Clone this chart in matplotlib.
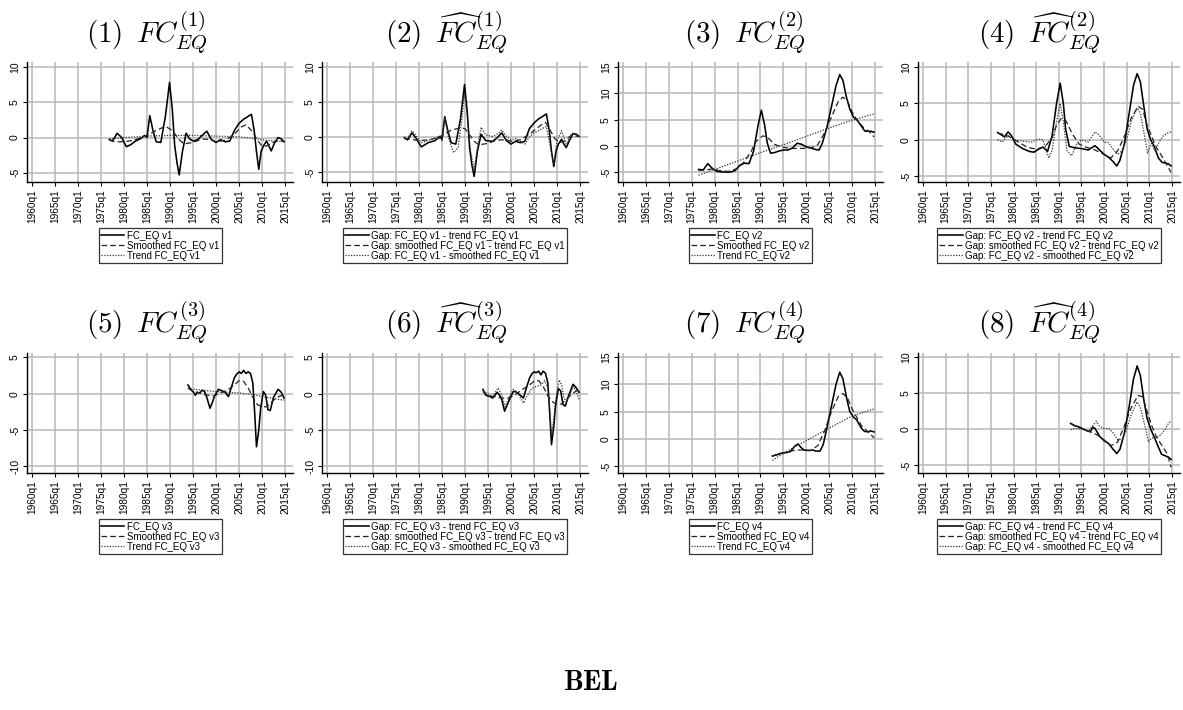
import matplotlib
matplotlib.use("Agg")
import matplotlib.pyplot as plt

plt.rcParams["font.family"] = ["Liberation Sans", "DejaVu Sans"]
plt.rcParams["mathtext.fontset"] = "cm"

# ---- series values (year, value) ----
# panel 1: FC_EQ v1
fc_v1 = [(1976.8, -0.3), (1977.5, -0.5), (1978.5, 0.6), (1979.5, 0.0), (1980.5, -1.3),
         (1981.5, -1.0), (1982.5, -0.5), (1983.5, -0.2), (1984.5, 0.3), (1985.0, 0.0),
         (1985.6, 3.1), (1986.3, 1.0), (1987.0, -0.6), (1988.0, -0.7), (1989.0, 3.0),
         (1989.9, 7.8), (1990.5, 4.0), (1991.0, -1.0), (1991.5, -3.5), (1992.0, -5.3),
         (1992.7, -2.0), (1993.5, 0.6), (1994.3, -0.2), (1995.0, -0.5), (1996.0, -0.3),
         (1997.0, 0.3), (1998.0, 0.9), (1999.0, -0.3), (2000.0, -0.7), (2001.0, -0.3),
         (2002.0, -0.6), (2003.0, -0.5), (2004.0, 1.0), (2005.0, 2.0), (2006.0, 2.6),
         (2007.0, 3.0), (2007.7, 3.3), (2008.3, 1.0), (2008.8, -2.0), (2009.3, -4.5),
         (2009.8, -2.0), (2010.3, -1.2), (2011.0, -0.5), (2011.5, -1.2), (2012.0, -1.9),
         (2012.7, -0.8), (2013.5, 0.0), (2014.2, -0.2), (2014.8, -0.6)]
smooth_v1 = [(1976.8, -0.3), (1978.0, -0.6), (1980.0, -0.6), (1982.0, -0.4), (1985.0, 0.3),
             (1987.0, 1.0), (1989.0, 1.6), (1990.5, 1.0), (1992.0, -0.3), (1993.0, -0.9),
             (1995.0, -0.7), (1997.0, -0.2), (1999.0, -0.3), (2000.0, -0.6), (2002.0, -0.4),
             (2004.0, 0.5), (2005.5, 1.5), (2006.5, 1.8), (2008.0, 0.8), (2009.0, -0.4),
             (2010.0, -1.2), (2011.0, -1.2), (2012.0, -0.8), (2013.0, -0.5), (2014.8, -0.5)]
trend_v1 = [(1976.8, -0.2), (1980.0, 0.0), (1985.0, 0.2), (1990.0, 0.3), (1995.0, 0.3),
            (2000.0, 0.2), (2005.0, 0.1), (2008.0, -0.1), (2011.0, -0.4), (2014.8, -0.6)]

# panel 2: gaps v1
gap_fc_trend_v1 = [(1976.8, -0.1), (1977.5, -0.4), (1978.5, 0.6), (1979.5, -0.3), (1980.5, -1.4),
                   (1982.0, -0.8), (1983.5, -0.5), (1984.5, 0.1), (1985.0, -0.3), (1985.6, 2.9),
                   (1986.3, 0.8), (1987.0, -0.8), (1988.0, -1.0), (1989.0, 2.5), (1989.9, 7.5),
                   (1990.5, 3.5), (1991.0, -1.5), (1991.5, -4.0), (1992.0, -5.6), (1992.7, -2.0),
                   (1993.5, 0.4), (1994.5, -0.5), (1996.0, -0.6), (1997.0, -0.1), (1998.0, 0.6),
                   (1999.0, -0.5), (2000.0, -1.0), (2001.0, -0.6), (2002.0, -0.8), (2003.0, -0.6),
                   (2004.0, 1.2), (2005.0, 2.0), (2006.0, 2.6), (2007.0, 3.0), (2007.7, 3.3),
                   (2008.3, 1.0), (2008.8, -2.0), (2009.3, -4.2), (2009.8, -2.0), (2010.3, -1.0),
                   (2011.0, -0.3), (2011.5, -1.0), (2012.0, -1.5), (2012.7, -0.5), (2013.5, 0.5),
                   (2014.2, 0.4), (2014.8, 0.1)]
gap_smooth_trend_v1 = [(1976.8, -0.2), (1978.0, -0.3), (1980.0, -0.5), (1982.0, -0.4), (1984.0, -0.1),
                       (1985.0, 0.2), (1987.0, 1.0), (1989.0, 1.3), (1990.0, 1.2), (1991.0, 0.3),
                       (1992.0, -0.6), (1993.0, -1.1), (1995.0, -0.9), (1997.0, -0.4), (1999.0, -0.4),
                       (2000.0, -0.6), (2002.0, -0.4), (2004.0, 0.4), (2005.5, 1.2), (2006.5, 1.7),
                       (2007.5, 2.1), (2008.5, 1.0), (2009.5, -0.2), (2010.5, -0.8), (2011.5, -0.6),
                       (2013.0, 0.2), (2014.8, 0.1)]
gap_fc_smooth_v1 = [(1976.8, 0.0), (1977.5, -0.2), (1978.5, 0.9), (1979.5, 0.1), (1980.5, -0.8),
                    (1982.0, -0.5), (1984.0, 0.0), (1985.0, -0.5), (1985.6, 2.7), (1986.5, -0.3),
                    (1987.5, -2.2), (1988.5, -1.5), (1989.3, 2.5), (1989.9, 6.3), (1990.5, 3.0),
                    (1991.2, -2.0), (1992.0, -4.6), (1992.7, -1.5), (1993.5, 1.4), (1994.5, 0.3),
                    (1996.0, 0.1), (1997.0, 0.4), (1998.0, 1.0), (1999.0, 0.1), (2000.0, -0.4),
                    (2001.0, -0.2), (2002.0, -0.6), (2003.0, -1.0), (2004.0, 0.0), (2005.0, 0.6),
                    (2006.0, 0.9), (2007.0, 1.3), (2007.7, 1.5), (2008.3, -0.5), (2009.3, -3.9),
                    (2010.0, -0.5), (2011.0, 0.9), (2012.0, -1.0), (2013.0, 0.3), (2014.0, 0.5),
                    (2014.8, -0.1)]

# panel 3: FC_EQ v2
fc_v2 = [(1976.5, -4.5), (1977.5, -4.6), (1978.5, -3.4), (1979.5, -4.3), (1980.5, -4.9),
         (1982.0, -5.0), (1983.5, -5.0), (1984.5, -4.7), (1985.5, -3.7), (1986.5, -3.3),
         (1987.5, -3.4), (1988.5, -1.0), (1989.5, 4.0), (1990.2, 6.8), (1990.9, 4.0),
         (1991.5, 0.5), (1992.2, -1.4), (1993.0, -1.3), (1994.0, -1.0), (1995.0, -0.8),
         (1996.0, -0.8), (1997.0, -0.4), (1998.0, 0.5), (1999.0, 0.3), (2000.0, -0.2),
         (2001.0, -0.4), (2002.0, -0.7), (2002.8, -0.8), (2003.5, 0.5), (2004.5, 3.5),
         (2005.5, 7.5), (2006.5, 11.5), (2007.3, 13.6), (2008.0, 12.5), (2008.7, 9.5),
         (2009.5, 7.0), (2010.3, 5.5), (2011.0, 5.0), (2012.0, 3.8), (2012.8, 2.8),
         (2013.5, 2.8), (2014.0, 2.8), (2014.8, 2.6)]
smooth_v2 = [(1976.5, -4.7), (1978.0, -4.6), (1979.5, -4.4), (1981.0, -4.7), (1983.0, -4.9),
             (1985.0, -4.3), (1986.5, -3.0), (1988.0, -1.0), (1989.0, 0.8), (1990.5, 1.9),
             (1991.5, 1.7), (1993.0, 0.3), (1995.0, -0.3), (1997.0, -0.5), (1999.0, -0.5),
             (2001.0, -0.4), (2002.5, 0.2), (2004.0, 2.5), (2005.5, 5.5), (2007.0, 8.5),
             (2008.0, 9.3), (2009.0, 8.5), (2010.0, 6.5), (2011.0, 5.0), (2012.5, 3.5),
             (2014.0, 2.5), (2014.8, 1.7)]
trend_v2 = [(1976.5, -5.6), (1980.0, -4.5), (1985.0, -2.9), (1990.0, -1.3), (1995.0, 0.2),
            (2000.0, 1.8), (2005.0, 3.4), (2010.0, 4.9), (2014.8, 6.1)]

# panel 4: gaps v2
gap_fc_trend_v2 = [(1976.5, 1.0), (1977.5, 0.6), (1978.0, 0.4), (1978.8, 1.1), (1979.5, 0.6),
                   (1980.5, -0.6), (1982.0, -1.2), (1983.5, -1.6), (1984.5, -1.7), (1985.5, -1.3),
                   (1986.5, -1.0), (1987.5, -1.6), (1988.5, 0.5), (1989.5, 5.0), (1990.3, 7.8),
                   (1991.0, 5.0), (1991.5, 1.5), (1992.3, -0.9), (1993.5, -1.1), (1995.0, -1.2),
                   (1996.5, -1.4), (1998.0, -0.8), (1999.0, -1.4), (2000.0, -2.0), (2001.0, -2.4),
                   (2002.0, -3.0), (2002.8, -3.6), (2003.5, -2.8), (2004.5, -0.5), (2005.5, 3.5),
                   (2006.5, 7.5), (2007.3, 9.1), (2008.0, 8.0), (2008.8, 4.5), (2009.5, 1.5),
                   (2010.3, 0.0), (2011.0, -0.8), (2012.0, -2.5), (2012.8, -3.1), (2013.5, -3.2),
                   (2014.2, -3.3), (2014.8, -3.6)]
gap_smooth_trend_v2 = [(1976.5, 0.9), (1978.0, 0.7), (1979.5, 0.3), (1981.0, -0.3), (1983.0, -1.0),
                       (1985.0, -1.3), (1987.0, -0.9), (1988.5, 0.3), (1989.5, 2.0), (1990.5, 2.9),
                       (1991.5, 2.7), (1993.0, 0.8), (1994.5, -0.6), (1996.0, -1.0), (1998.0, -1.4),
                       (2000.0, -2.0), (2001.5, -2.5), (2003.0, -1.5), (2004.5, 0.5), (2006.0, 3.0),
                       (2007.5, 4.6), (2008.5, 4.2), (2009.5, 2.0), (2010.5, 0.5), (2011.5, -1.0),
                       (2013.0, -2.5), (2014.8, -4.5)]
gap_fc_smooth_v2 = [(1976.5, 0.0), (1977.5, -0.3), (1978.8, 0.6), (1980.0, 0.0), (1982.0, -0.2),
                    (1984.0, -0.3), (1985.5, 0.1), (1986.5, 0.0), (1987.8, -2.5), (1988.5, -1.5),
                    (1989.5, 2.5), (1990.3, 5.0), (1991.0, 2.5), (1991.8, -1.5), (1992.8, -2.2),
                    (1994.0, -0.5), (1995.0, 0.0), (1996.5, -0.3), (1998.0, 1.1), (1999.0, 0.6),
                    (2000.0, -0.3), (2001.0, -0.4), (2002.0, -1.3), (2003.0, -2.0), (2004.0, -1.5),
                    (2005.0, 0.0), (2006.0, 2.5), (2007.3, 4.4), (2008.0, 3.7), (2008.8, 1.0),
                    (2009.6, -1.8), (2010.5, -0.5), (2011.2, -1.5), (2012.0, -0.5), (2013.0, 0.5),
                    (2014.2, 1.0), (2014.8, 1.1)]

# panel 5: FC_EQ v3
fc_v3 = [(1993.9, 1.2), (1994.5, 0.6), (1995.0, 0.3), (1995.5, -0.2), (1996.0, 0.2),
         (1996.5, 0.1), (1997.0, 0.5), (1997.5, 0.3), (1998.0, -0.5), (1998.7, -2.0),
         (1999.2, -1.2), (1999.7, -0.3), (2000.5, 0.6), (2001.0, 0.5), (2002.0, 0.2),
         (2002.7, -0.4), (2003.3, 0.8), (2004.0, 2.2), (2004.5, 2.7), (2005.0, 3.0),
         (2005.5, 2.8), (2006.0, 3.2), (2006.5, 2.8), (2007.0, 3.0), (2007.5, 2.8),
         (2008.0, 1.5), (2008.4, -2.5), (2008.8, -7.3), (2009.3, -5.0), (2009.7, -2.0),
         (2010.3, 0.3), (2010.8, -0.2), (2011.3, -2.2), (2011.8, -2.3), (2012.5, -0.5),
         (2013.5, 0.6), (2014.2, 0.2), (2014.8, -0.6)]
smooth_v3 = [(1993.9, 0.8), (1995.0, 0.3), (1996.5, 0.1), (1998.0, -0.2), (1999.5, -0.3),
             (2001.0, 0.1), (2002.5, 0.5), (2004.0, 1.2), (2005.0, 1.8), (2006.0, 1.7),
             (2007.0, 0.8), (2008.0, -0.5), (2009.0, -1.5), (2010.0, -1.8), (2011.0, -1.8),
             (2012.0, -1.2), (2013.0, -0.6), (2014.0, -0.3), (2014.8, -0.2)]
trend_v3 = [(1993.9, 0.7), (2000.0, 0.3), (2005.0, 0.1), (2008.0, -0.1), (2010.0, -0.4),
            (2012.0, -0.6), (2014.8, -0.9)]

# panel 6: gaps v3
gap_fc_trend_v3 = [(1993.9, 0.6), (1994.5, -0.2), (1995.5, -0.4), (1996.0, -0.6), (1996.5, -0.2),
                   (1997.0, 0.2), (1997.5, -0.2), (1998.0, -0.8), (1998.6, -2.4), (1999.2, -1.5),
                   (1999.8, -0.6), (2000.5, 0.3), (2001.0, 0.3), (2002.0, -0.2), (2002.7, -0.6),
                   (2003.3, 0.7), (2004.0, 2.1), (2004.5, 2.7), (2005.0, 3.0), (2005.5, 2.9),
                   (2006.0, 3.1), (2006.5, 2.6), (2007.0, 3.1), (2007.5, 2.8), (2008.0, 1.5),
                   (2008.4, -2.5), (2008.8, -7.0), (2009.3, -4.5), (2009.7, -1.5), (2010.3, 0.7),
                   (2010.8, 0.4), (2011.3, -1.5), (2011.8, -1.7), (2012.5, -0.3), (2013.5, 1.3),
                   (2014.2, 0.8), (2014.8, 0.2)]
gap_smooth_trend_v3 = [(1993.9, 0.3), (1995.0, -0.3), (1996.5, -0.4), (1998.0, -0.6), (1999.5, -0.6),
                       (2001.0, -0.1), (2002.5, 0.6), (2004.0, 1.2), (2005.0, 1.7), (2006.0, 1.8),
                       (2007.0, 1.0), (2008.0, -0.3), (2009.0, -1.1), (2010.0, -1.5), (2011.0, -1.4),
                       (2012.0, -0.8), (2013.0, -0.2), (2014.0, 0.3), (2014.8, 0.6)]
gap_fc_smooth_v3 = [(1993.9, 0.4), (1995.0, 0.0), (1996.0, -0.4), (1997.2, 0.8), (1998.0, -0.2),
                    (1998.7, -1.8), (1999.5, -0.6), (2000.5, 0.6), (2001.5, 0.1), (2002.7, -1.3),
                    (2003.5, -0.3), (2004.5, 0.7), (2005.5, 1.0), (2006.5, 1.2), (2007.3, 1.8),
                    (2008.0, 0.8), (2008.4, -2.0), (2008.8, -5.7), (2009.3, -3.5), (2009.8, -0.5),
                    (2010.5, 1.9), (2011.0, 1.2), (2011.5, -0.5), (2012.0, -1.1), (2012.7, -0.3),
                    (2013.5, 1.0), (2014.2, 0.3), (2014.8, -0.8)]

# panel 7: FC_EQ v4
fc_v4 = [(1992.6, -3.1), (1993.5, -2.9), (1994.5, -2.6), (1995.5, -2.5), (1996.5, -2.3),
         (1997.5, -1.3), (1998.2, -0.9), (1998.8, -1.5), (1999.5, -2.0), (2000.5, -2.1),
         (2001.5, -2.0), (2002.0, -2.2), (2003.0, -2.2), (2003.7, -1.0), (2004.5, 2.0),
         (2005.5, 6.0), (2006.5, 10.0), (2007.3, 12.2), (2008.0, 11.0), (2008.8, 7.5),
         (2009.5, 5.0), (2010.3, 4.0), (2011.0, 3.5), (2012.0, 2.0), (2012.7, 1.4),
         (2013.5, 1.3), (2014.0, 1.5), (2014.8, 1.3)]
smooth_v4 = [(1992.6, -3.1), (1994.0, -2.7), (1996.0, -2.3), (1998.0, -2.0), (1999.5, -2.0),
             (2001.0, -2.1), (2002.5, -1.2), (2004.0, 1.5), (2005.5, 5.0), (2007.0, 7.8),
             (2008.0, 8.3), (2009.0, 7.5), (2010.0, 5.5), (2011.0, 4.0), (2012.0, 2.5),
             (2013.5, 1.3), (2014.8, 0.2)]
trend_v4 = [(1992.6, -3.9), (1995.0, -2.6), (2000.0, -0.3), (2005.0, 2.0), (2010.0, 4.2),
            (2014.8, 5.5)]

# panel 8: gaps v4
gap_fc_trend_v4 = [(1992.6, 0.8), (1993.5, 0.5), (1994.5, 0.3), (1995.5, 0.0), (1996.5, -0.3),
                   (1997.0, -0.3), (1997.5, 0.3), (1998.0, 0.1), (1999.0, -1.0), (2000.0, -1.6),
                   (2001.0, -2.0), (2002.0, -2.8), (2002.8, -3.4), (2003.5, -2.8), (2004.5, -0.5),
                   (2005.5, 3.0), (2006.5, 7.0), (2007.3, 8.8), (2008.0, 7.5), (2008.8, 4.0),
                   (2009.5, 1.5), (2010.3, 0.0), (2011.0, -1.0), (2012.0, -2.5), (2012.7, -3.5),
                   (2013.5, -3.7), (2014.2, -3.9), (2014.8, -4.2)]
gap_smooth_trend_v4 = [(1992.6, 0.8), (1994.0, 0.3), (1995.5, 0.0), (1997.0, -0.4), (1998.5, -0.8),
                       (2000.0, -1.5), (2001.5, -2.3), (2003.0, -1.8), (2004.5, 0.5), (2006.0, 3.0),
                       (2007.5, 4.7), (2008.5, 4.5), (2009.5, 2.5), (2010.5, 0.5), (2011.5, -1.0),
                       (2013.0, -2.5), (2014.0, -3.5), (2014.8, -5.3)]
gap_fc_smooth_v4 = [(1992.6, -0.1), (1993.5, 0.1), (1995.0, 0.0), (1996.5, -0.3), (1997.5, 0.5),
                    (1998.3, 1.1), (1999.0, 0.4), (2000.0, 0.1), (2001.0, 0.1), (2002.0, -0.5),
                    (2003.0, -1.5), (2004.0, -1.4), (2005.0, 0.0), (2006.0, 2.0), (2007.3, 3.8),
                    (2008.0, 3.0), (2009.0, 0.5), (2009.8, -1.8), (2010.5, -1.2), (2011.5, -1.2),
                    (2012.5, -0.8), (2013.5, 0.0), (2014.3, 0.9), (2014.8, 1.1)]

titles = [r"$(1)\ \,FC^{(1)}_{EQ}$", r"$(2)\ \,\widehat{FC}^{(1)}_{EQ}$",
          r"$(3)\ \,FC^{(2)}_{EQ}$", r"$(4)\ \,\widehat{FC}^{(2)}_{EQ}$",
          r"$(5)\ \,FC^{(3)}_{EQ}$", r"$(6)\ \,\widehat{FC}^{(3)}_{EQ}$",
          r"$(7)\ \,FC^{(4)}_{EQ}$", r"$(8)\ \,\widehat{FC}^{(4)}_{EQ}$"]
year_ticks = list(range(1960, 2016, 5))
year_labels = [f"{y}q1" for y in year_ticks]
y_ticks = [[-5, 0, 5, 10], [-5, 0, 5, 10], [-5, 0, 5, 10, 15], [-5, 0, 5, 10],
           [-10, -5, 0, 5], [-10, -5, 0, 5], [-5, 0, 5, 10, 15], [-5, 0, 5, 10]]
y_limits = [(-6.3, 10.7), (-6.4, 10.7), (-6.9, 16.0), (-5.8, 10.7),
            (-10.9, 5.6), (-10.9, 5.6), (-6.2, 15.7), (-6.1, 10.6)]

panel_series = [
    (fc_v1, smooth_v1, trend_v1),
    (gap_fc_trend_v1, gap_smooth_trend_v1, gap_fc_smooth_v1),
    (fc_v2, smooth_v2, trend_v2),
    (gap_fc_trend_v2, gap_smooth_trend_v2, gap_fc_smooth_v2),
    (fc_v3, smooth_v3, trend_v3),
    (gap_fc_trend_v3, gap_smooth_trend_v3, gap_fc_smooth_v3),
    (fc_v4, smooth_v4, trend_v4),
    (gap_fc_trend_v4, gap_smooth_trend_v4, gap_fc_smooth_v4),
]


def legend_labels(k, gap):
    if gap:
        return [f"Gap: FC_EQ v{k} - trend FC_EQ v{k}",
                f"Gap: smoothed FC_EQ v{k} - trend FC_EQ v{k}",
                f"Gap: FC_EQ v{k} - smoothed FC_EQ v{k}"]
    return [f"FC_EQ v{k}", f"Smoothed FC_EQ v{k}", f"Trend FC_EQ v{k}"]


W, H = 1183, 710
fig = plt.figure(figsize=(W / 100, H / 100), dpi=100)

left_px = [27, 322, 618, 918]
right_px = [293, 588, 883, 1180]
title_x = [147, 446, 745, 1039]
rows = [(62, 182, 43), (353, 473, 333)]  # top, bottom, title baseline (px)

styles = [dict(color="black", lw=1.15, ls="-"),
          dict(color="#222222", lw=0.9, ls=(0, (4.5, 2.5))),
          dict(color="#333333", lw=0.9, ls=(0, (1.0, 1.2)))]

for i, series in enumerate(panel_series):
    r, c = divmod(i, 4)
    top, bottom, tb = rows[r]
    l, rt = left_px[c], right_px[c]
    ax = fig.add_axes([l / W, 1 - bottom / H, (rt - l) / W, (bottom - top) / H])
    scale = ((rt - 8) - (l + 5)) / 55.0
    ax.set_xlim(1960 - 5 / scale, 2015 + 8 / scale)
    ax.set_ylim(*y_limits[i])

    handles = []
    for pts, st in zip(series, styles):
        xs = [p[0] for p in pts]
        ys = [p[1] for p in pts]
        h, = ax.plot(xs, ys, solid_joinstyle="round", zorder=3, **st)
        handles.append(h)

    ax.set_xticks(year_ticks)
    ax.set_xticklabels(year_labels, rotation=90, fontsize=7.3)
    ax.set_yticks(y_ticks[i])
    ax.set_yticklabels([str(v) for v in y_ticks[i]], rotation=90, va="center", fontsize=7.5)
    ax.tick_params(length=3, width=0.8, pad=2)
    ax.grid(True, color="#b8b8b8", lw=1.1, zorder=0)
    ax.set_axisbelow(True)
    for s in ("top", "right"):
        ax.spines[s].set_visible(False)
    for s in ("left", "bottom"):
        ax.spines[s].set_linewidth(1.0)

    leg = ax.legend(handles, legend_labels(i // 2 + 1, i % 2 == 1),
                    loc="upper center", bbox_to_anchor=(0.5, -0.385),
                    fontsize=7, frameon=True, fancybox=False, handlelength=2.4,
                    handletextpad=0.25, labelspacing=0.0, borderpad=0.25,
                    borderaxespad=0.0)
    leg.get_frame().set_edgecolor("black")
    leg.get_frame().set_linewidth(0.9)

    fig.text(title_x[c] / W, 1 - tb / H, titles[i], fontsize=21,
             ha="center", va="baseline")

fig.text(591 / W, 1 - 683 / H, r"$\mathbf{BEL}$", fontsize=20, ha="center", va="center")

fig.savefig("out.png", dpi=100)
